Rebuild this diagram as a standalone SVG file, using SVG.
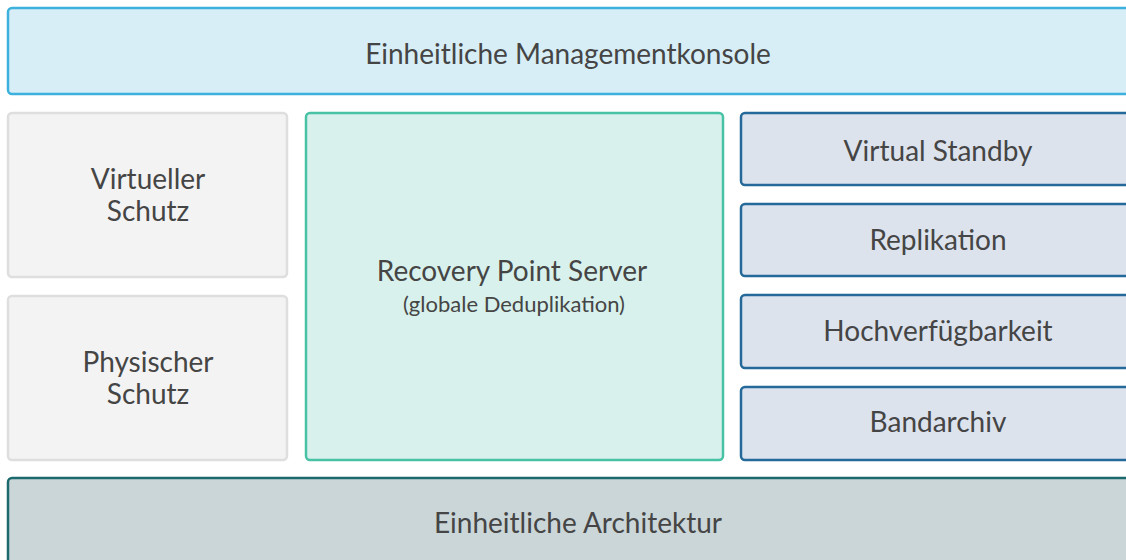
<svg xmlns="http://www.w3.org/2000/svg" width="1126" height="560" viewBox="0 0 1126 560">
<style>
text{font-family:Lato,"Open Sans","Liberation Sans",sans-serif;fill:#454545;text-anchor:middle;font-size:28px}
.sm{font-size:22px}
.top{fill:#d7eef7;stroke:#3cb1dd;stroke-width:2.5}
.gray{fill:#f3f3f3;stroke:#dedede;stroke-width:2.5}
.rps{fill:#d8f1ec;stroke:#47c2a5;stroke-width:2.5}
.blue{fill:#dce3ed;stroke:#24699a;stroke-width:2.5}
.base{fill:#cbd6d8;stroke:#1c6a6e;stroke-width:2.5}
</style>
<rect width="1126" height="560" fill="#fff"/>
<g id="management">
<rect class="top" x="8" y="8" width="1130" height="86" rx="4"/>
<text x="568" y="64">Einheitliche Managementkonsole</text>
</g>
<g id="virtuell">
<rect class="gray" x="8" y="113" width="279" height="164" rx="4"/>
<text x="148" y="189">Virtueller</text>
<text x="148" y="221">Schutz</text>
</g>
<g id="physisch">
<rect class="gray" x="8" y="296" width="279" height="164" rx="4"/>
<text x="148" y="372">Physischer</text>
<text x="148" y="404">Schutz</text>
</g>
<g id="rps">
<rect class="rps" x="306" y="113" width="417" height="347" rx="4"/>
<text x="512" y="281">Recovery Point Server</text>
<text class="sm" x="514" y="312">(globale Deduplikation)</text>
</g>
<g id="standby">
<rect class="blue" x="741" y="113" width="394" height="72" rx="4"/>
<text x="938" y="161">Virtual Standby</text>
</g>
<g id="replikation">
<rect class="blue" x="741" y="204" width="394" height="72" rx="4"/>
<text x="938" y="250">Replikation</text>
</g>
<g id="hochverfuegbarkeit">
<rect class="blue" x="741" y="295" width="394" height="73" rx="4"/>
<text x="938" y="341">Hochverfügbarkeit</text>
</g>
<g id="bandarchiv">
<rect class="blue" x="741" y="387" width="394" height="73" rx="4"/>
<text x="938" y="432">Bandarchiv</text>
</g>
<g id="architektur">
<rect class="base" x="8" y="478" width="1140" height="100" rx="4"/>
<text x="578" y="533">Einheitliche Architektur</text>
</g>
<g id="connectors"></g>
</svg>
